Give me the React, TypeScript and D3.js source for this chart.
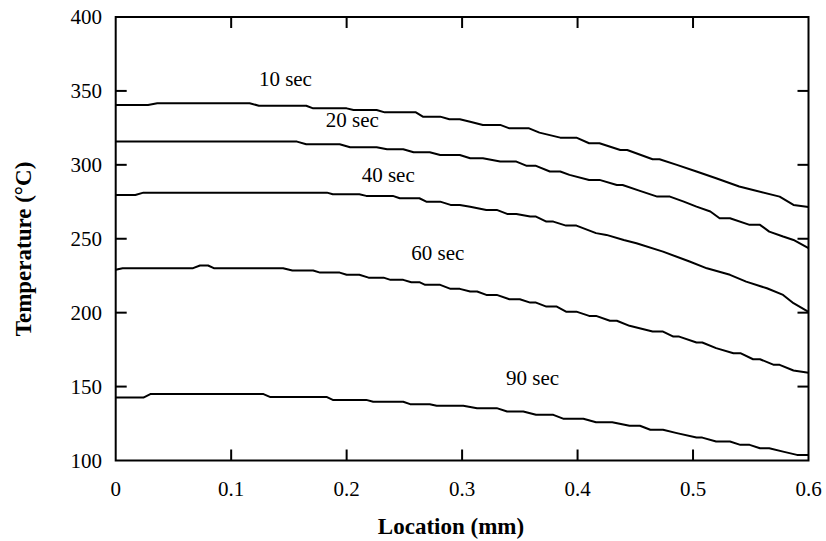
import React from "react";
import * as d3 from "d3";

const xTicks = [0, 0.1, 0.2, 0.3, 0.4, 0.5, 0.6];
const yTicks = [100, 150, 200, 250, 300, 350, 400];

const seriesNames = ["10 sec", "20 sec", "40 sec", "60 sec", "90 sec"];

const loc10 = [0, 0.028, 0.036, 0.116, 0.124, 0.165, 0.171, 0.2, 0.206, 0.226, 0.233, 0.26, 0.266, 0.281, 0.289, 0.298, 0.307, 0.318, 0.333, 0.341, 0.358, 0.367, 0.385, 0.399, 0.41, 0.419, 0.437, 0.443, 0.465, 0.471, 0.486, 0.503, 0.52, 0.54, 0.552, 0.575, 0.587, 0.6];
const temp10 = [340.5, 340.5, 341.7, 341.7, 340, 340, 338.2, 338.2, 337.1, 337.1, 335.5, 335.5, 332.6, 332.6, 330.8, 330.8, 329.2, 327, 327, 324.7, 324.7, 321.8, 318.4, 318.4, 314.6, 314.6, 310, 310, 303.8, 303.8, 300, 295.5, 290.9, 285.3, 283, 278.5, 272.9, 271.5];

const loc20 = [0, 0.157, 0.165, 0.194, 0.203, 0.226, 0.235, 0.249, 0.258, 0.272, 0.281, 0.298, 0.307, 0.318, 0.333, 0.347, 0.356, 0.364, 0.376, 0.385, 0.393, 0.41, 0.419, 0.434, 0.439, 0.454, 0.469, 0.48, 0.492, 0.503, 0.515, 0.523, 0.532, 0.549, 0.558, 0.566, 0.578, 0.587, 0.6];
const temp20 = [315.7, 315.7, 313.9, 313.9, 311.9, 311.9, 310.5, 310.5, 308.5, 308.5, 306.7, 306.7, 304.5, 304.5, 302.2, 302.2, 299.3, 299.3, 295.5, 295.5, 293.2, 289.8, 289.8, 286.4, 286.4, 282.4, 278.5, 278.5, 275.1, 271.7, 268.4, 263.9, 263.9, 259.4, 259.4, 254.8, 251.5, 249.2, 243.6];

const loc40 = [0, 0.017, 0.024, 0.183, 0.188, 0.211, 0.217, 0.24, 0.246, 0.263, 0.269, 0.281, 0.29, 0.298, 0.307, 0.321, 0.33, 0.339, 0.347, 0.359, 0.364, 0.373, 0.379, 0.39, 0.399, 0.416, 0.425, 0.44, 0.451, 0.474, 0.497, 0.512, 0.532, 0.546, 0.564, 0.578, 0.587, 0.6];
const temp40 = [279.6, 279.6, 281.2, 281.2, 280.1, 280.1, 279, 279, 277.4, 277.4, 275.1, 275.1, 272.9, 272.9, 271.7, 269.5, 269.5, 266.8, 266.8, 265, 265, 261.6, 261.6, 258.9, 258.9, 253.8, 252.6, 249.2, 247, 241.3, 234.6, 230, 225.6, 221, 216.5, 212, 206.4, 200.5];

const loc60 = [0, 0.006, 0.067, 0.073, 0.08, 0.085, 0.145, 0.153, 0.171, 0.177, 0.194, 0.2, 0.211, 0.219, 0.232, 0.238, 0.249, 0.256, 0.263, 0.268, 0.281, 0.29, 0.298, 0.307, 0.313, 0.321, 0.33, 0.341, 0.35, 0.359, 0.364, 0.373, 0.382, 0.39, 0.399, 0.41, 0.416, 0.428, 0.434, 0.445, 0.465, 0.474, 0.483, 0.488, 0.503, 0.508, 0.52, 0.535, 0.541, 0.552, 0.558, 0.57, 0.575, 0.587, 0.6];
const temp60 = [229, 230.1, 230.1, 231.9, 231.9, 230.1, 230.1, 228.5, 228.5, 227.1, 227.1, 225.6, 225.6, 223.7, 223.7, 222.2, 222.2, 220.6, 220.6, 218.8, 218.8, 216.1, 216.1, 214.3, 214.3, 212, 212, 209.1, 209.1, 206.8, 206.8, 204.1, 204.1, 200.7, 200.7, 197.8, 197.8, 194.5, 194.5, 191.1, 187.2, 187.2, 183.8, 183.8, 179.8, 179.8, 176, 172.6, 172.6, 168.5, 168.5, 164.7, 164.7, 160.9, 159.3];

const loc90 = [0, 0.024, 0.03, 0.128, 0.134, 0.183, 0.188, 0.217, 0.223, 0.249, 0.255, 0.272, 0.278, 0.301, 0.313, 0.33, 0.339, 0.353, 0.364, 0.379, 0.388, 0.405, 0.416, 0.43, 0.445, 0.454, 0.463, 0.474, 0.486, 0.503, 0.508, 0.52, 0.532, 0.541, 0.549, 0.558, 0.566, 0.578, 0.59, 0.6];
const temp90 = [142.6, 142.6, 144.9, 144.9, 142.9, 142.9, 141, 141, 139.7, 139.7, 138.1, 138.1, 137, 137, 135.4, 135.4, 133.1, 133.1, 130.9, 130.9, 128.2, 128.2, 125.9, 125.9, 123.5, 123.5, 120.8, 120.8, 118.5, 115.5, 115.5, 112.8, 112.8, 110.6, 110.6, 108.3, 108.3, 106, 103.8, 103.8];

// label anchor positions in data units (location, temperature)
const labelLoc = [0.124, 0.182, 0.213, 0.256, 0.338];
const labelTemp = [353, 325.5, 288.6, 235.5, 151.3];

const W = 826;
const H = 541;
const left = 115.7;
const right = 808.5;
const top = 17;
const bottom = 460.5;
const FONT = "Liberation Serif, Times New Roman, Times, DejaVu Serif, serif";

export default function App() {
  const x = d3.scaleLinear().domain([0, 0.6]).range([left, right]);
  const y = d3.scaleLinear().domain([100, 400]).range([bottom, top]);
  const line = d3
    .line<[number, number]>()
    .x((d) => x(d[0]))
    .y((d) => y(d[1]));

  const series = [
    [loc10, temp10],
    [loc20, temp20],
    [loc40, temp40],
    [loc60, temp60],
    [loc90, temp90],
  ].map(([ls, ts]) => ls.map((l, i) => [l, ts[i]] as [number, number]));

  const tickLen = 11;
  const txt = { fontFamily: FONT, fontSize: "21px" } as React.CSSProperties;
  const ttl = { fontFamily: FONT, fontSize: "23px", fontWeight: 700 } as React.CSSProperties;

  return (
    <svg
      width={W}
      height={H}
      style={{ position: "absolute", left: 0, top: 0, background: "#fff", fontFamily: FONT }}
    >
      <rect x={0} y={0} width={W} height={H} fill="#fff" />
      {series.map((s, i) => (
        <path
          key={i}
          d={line(s) || ""}
          fill="none"
          stroke="#000"
          strokeWidth={2}
          strokeLinejoin="round"
        />
      ))}
      {seriesNames.map((n, i) => (
        <text key={n} x={x(labelLoc[i])} y={y(labelTemp[i])} style={txt} fill="#000">
          {n}
        </text>
      ))}
      <rect
        x={left}
        y={top}
        width={right - left}
        height={bottom - top}
        fill="none"
        stroke="#000"
        strokeWidth={2}
      />
      {xTicks.slice(1, -1).map((t) => (
        <g key={"xt" + t}>
          <line x1={x(t)} x2={x(t)} y1={bottom} y2={bottom - tickLen} stroke="#000" strokeWidth={2} />
          <line x1={x(t)} x2={x(t)} y1={top} y2={top + tickLen} stroke="#000" strokeWidth={2} />
        </g>
      ))}
      {yTicks.slice(1, -1).map((t) => (
        <g key={"yt" + t}>
          <line x1={left} x2={left + tickLen} y1={y(t)} y2={y(t)} stroke="#000" strokeWidth={2} />
          <line x1={right} x2={right - tickLen} y1={y(t)} y2={y(t)} stroke="#000" strokeWidth={2} />
        </g>
      ))}
      {xTicks.map((t) => (
        <text key={"xl" + t} x={x(t)} y={496} textAnchor="middle" style={txt} fill="#000">
          {d3.format("~g")(t)}
        </text>
      ))}
      {yTicks.map((t) => (
        <text
          key={"yl" + t}
          x={102}
          y={y(t) + 7}
          textAnchor="end"
          style={txt}
          fill="#000"
        >
          {t}
        </text>
      ))}
      <text x={451} y={534} textAnchor="middle" style={ttl} fill="#000">
        Location (mm)
      </text>
      <text
        transform={`translate(31,249) rotate(-90)`}
        textAnchor="middle"
        style={ttl}
        fill="#000"
      >
        Temperature (°C)
      </text>
    </svg>
  );
}
